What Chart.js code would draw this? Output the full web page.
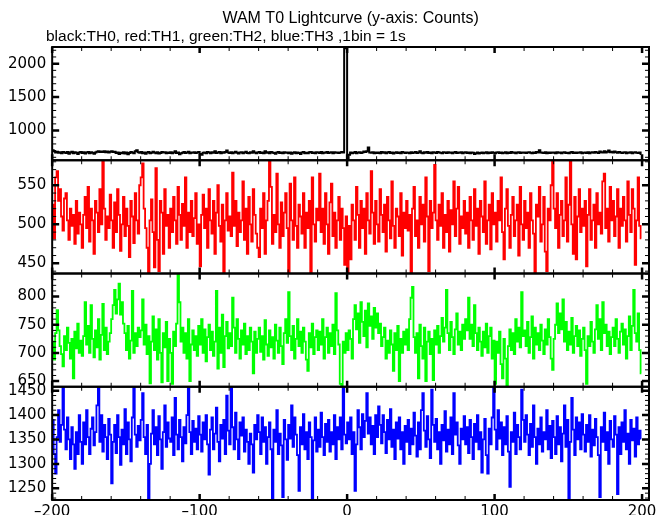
<!DOCTYPE html>
<html>
<head>
<meta charset="utf-8">
<title>WAM T0 Lightcurve</title>
<script src="https://cdn.jsdelivr.net/npm/chart.js@4.4.1/dist/chart.umd.min.js"></script>
<style>
  html, body { margin: 0; padding: 0; background: #fff; }
  #wrap { position: relative; width: 669px; height: 515px; }
</style>
</head>
<body>
<div id="wrap"><canvas id="lc"></canvas></div>
<script>
const TITLE = 'WAM T0 Lightcurve (y-axis: Counts)'
const SUBTITLE = 'black:TH0, red:TH1, green:TH2, blue:TH3 ,1bin = 1s'

// time bins: 1 s each, first bin starts at -200 s
const T_START = -200
const BIN = 1

// counts per bin (20 bins per row)
const th0 = [
  705, 690, 672, 684, 668, 676, 660, 680, 671, 664, 678, 655, 670, 682, 662, 675, 668, 650, 672, 680,
  665, 674, 658, 670, 680, 662, 676, 668, 655, 672, 684, 690, 678, 686, 680, 692, 675, 688, 670, 684,
  690, 678, 682, 665, 672, 650, 668, 662, 676, 658, 670, 645, 665, 680, 672, 660, 690, 705, 675, 668,
  680, 662, 670, 655, 672, 678, 660, 668, 684, 670, 662, 676, 658, 665, 680, 670, 674, 660, 672, 666,
  676, 662, 670, 690, 665, 672, 645, 660, 668, 678, 664, 670, 682, 660, 672, 668, 675, 663, 670, 680,
  650, 640, 668, 672, 660, 678, 670, 662, 675, 668, 690, 665, 672, 680, 660, 674, 668, 678, 700, 670,
  665, 675, 660, 670, 682, 668, 658, 672, 676, 662, 670, 684, 665, 660, 675, 668, 692, 672, 660, 670,
  678, 665, 672, 660, 690, 668, 674, 662, 680, 670, 665, 655, 672, 678, 664, 670, 660, 675, 668, 672,
  662, 670, 655, 668, 676, 660, 672, 665, 648, 670, 678, 662, 668, 660, 674, 680, 665, 670, 662, 676,
  670, 664, 678, 660, 672, 668, 680, 665, 670, 674, 662, 676, 668, 672, 665, 670, 678, 672, 2232, 2245,
  455, 640, 672, 660, 668, 680, 662, 670, 676, 664, 672, 686, 678, 690, 745, 672, 668, 675, 662, 670,
  665, 672, 660, 678, 668, 674, 662, 670, 680, 664, 672, 658, 668, 676, 665, 670, 662, 678, 670, 666,
  672, 668, 660, 676, 664, 670, 680, 665, 672, 690, 668, 660, 674, 668, 678, 665, 670, 662, 676, 670,
  665, 680, 672, 668, 660, 675, 670, 664, 676, 668, 672, 660, 670, 678, 665, 672, 668, 674, 662, 670,
  675, 664, 670, 660, 672, 668, 650, 662, 670, 658, 665, 672, 660, 668, 674, 662, 670, 665, 676, 668,
  662, 670, 676, 665, 672, 660, 668, 674, 662, 670, 665, 678, 668, 672, 660, 670, 676, 664, 670, 668,
  672, 665, 670, 676, 668, 660, 672, 665, 678, 670, 705, 672, 668, 664, 676, 660, 670, 665, 672, 668,
  670, 662, 676, 668, 672, 660, 670, 674, 665, 668, 660, 672, 678, 664, 670, 665, 672, 668, 676, 662,
  668, 672, 665, 676, 660, 670, 674, 668, 680, 672, 665, 685, 676, 670, 690, 672, 682, 700, 676, 684,
  672, 688, 676, 668, 680, 672, 665, 670, 676, 662, 672, 668, 674, 660, 670, 676, 668, 664, 672, 650
]
const th1 = [
  525, 482, 560, 568, 530, 545, 510, 492, 533, 540, 505, 480, 520, 498, 512, 475, 530, 488, 515, 500,
  470, 512, 535, 495, 548, 478, 520, 505, 462, 530, 515, 490, 545, 500, 583, 520, 480, 510, 495, 538,
  505, 470, 528, 490, 545, 512, 466, 500, 535, 485, 520, 498, 458, 530, 510, 476, 540, 505, 488, 550,
  560, 578, 520, 495, 470, 438, 505, 532, 490, 445, 572, 480, 440, 530, 515, 462, 545, 498, 512, 470,
  520, 490, 535, 505, 475, 548, 512, 480, 526, 498, 560, 470, 515, 490, 530, 485, 508, 540, 475, 500,
  446, 512, 538, 495, 520, 470, 545, 505, 488, 530, 462, 515, 550, 498, 478, 525, 438, 505, 540, 492,
  510, 485, 566, 498, 530, 472, 515, 490, 505, 555, 480, 520, 462, 535, 500, 478, 545, 512, 488, 470,
  458, 520, 495, 540, 462, 505, 530, 582, 548, 475, 512, 490, 565, 500, 470, 528, 485, 515, 540, 495,
  437, 552, 505, 480, 560, 498, 470, 525, 510, 488, 540, 470, 515, 495, 530, 437, 560, 500, 478, 520,
  505, 565, 490, 520, 475, 540, 500, 462, 528, 552, 485, 515, 470, 505, 535, 480, 520, 495, 448, 510,
  437, 498, 455, 525, 505, 480, 548, 512, 470, 530, 495, 520, 462, 540, 505, 488, 568, 515, 475, 530,
  500, 478, 545, 512, 490, 525, 465, 535, 505, 482, 555, 498, 470, 520, 510, 485, 540, 460, 515, 495,
  530, 492, 512, 437, 520, 548, 485, 505, 470, 535, 500, 525, 478, 560, 510, 440, 530, 495, 515, 576,
  505, 480, 525, 498, 540, 470, 512, 490, 530, 465, 518, 500, 555, 485, 520, 548, 475, 510, 495, 530,
  488, 515, 470, 535, 505, 480, 545, 498, 520, 462, 530, 510, 490, 555, 475, 505, 525, 468, 540, 500,
  515, 478, 530, 505, 560, 490, 455, 520, 545, 498, 470, 512, 535, 485, 505, 525, 460, 548, 500, 480,
  530, 495, 515, 470, 540, 505, 488, 437, 525, 510, 548, 478, 500, 535, 465, 440, 520, 505, 550, 582,
  520, 495, 540, 470, 512, 530, 485, 505, 560, 478, 525, 582, 500, 462, 535, 455, 510, 545, 490, 520,
  498, 530, 446, 512, 545, 480, 505, 525, 470, 540, 500, 515, 488, 555, 565, 495, 520, 478, 548, 505,
  530, 485, 510, 545, 470, 520, 498, 535, 505, 478, 555, 512, 490, 545, 520, 448, 505, 560, 498, 482
]
const th2 = [
  720, 688, 735, 776, 740, 712, 698, 676, 730, 705, 745, 718, 690, 725, 655, 738, 708, 752, 700, 722,
  695, 730, 790, 715, 748, 700, 785, 725, 692, 740, 710, 760, 688, 732, 787, 705, 745, 698, 720, 735,
  760, 785, 812, 770, 795, 823, 768, 790, 752, 735, 705, 748, 690, 722, 810, 700, 735, 712, 745, 728,
  740, 795, 715, 750, 698, 730, 646, 720, 765, 705, 742, 688, 760, 700, 648, 735, 710, 755, 650, 725,
  700, 645, 738, 712, 752, 845, 790, 720, 745, 700, 735, 690, 760, 650, 715, 740, 705, 730, 695, 748,
  715, 760, 700, 742, 685, 728, 750, 705, 738, 695, 720, 810, 672, 745, 700, 768, 675, 730, 755, 708,
  735, 712, 798, 745, 700, 760, 725, 690, 740, 715, 752, 698, 730, 705, 745, 720, 664, 738, 700, 725,
  745, 702, 730, 688, 758, 715, 695, 740, 710, 728, 690, 750, 722, 700, 745, 712, 680, 735, 760, 718,
  808, 730, 705, 748, 690, 725, 760, 712, 738, 700, 745, 720, 688, 668, 735, 710, 752, 698, 728, 740,
  705, 738, 715, 760, 690, 728, 745, 700, 735, 712, 750, 698, 806, 740, 715, 645, 643, 720, 700, 735,
  705, 740, 725, 690, 760, 785, 742, 770, 718, 790, 755, 730, 775, 710, 788, 748, 765, 725, 780, 745,
  770, 735, 752, 712, 728, 745, 690, 722, 700, 740, 715, 668, 735, 705, 748, 650, 725, 700, 738, 715,
  742, 705, 760, 798, 817, 728, 700, 735, 655, 750, 712, 690, 745, 650, 720, 738, 698, 725, 652, 740,
  715, 748, 700, 730, 762, 720, 745, 812, 735, 705, 755, 728, 698, 742, 770, 715, 738, 705, 750, 725,
  760, 740, 798, 725, 750, 712, 785, 735, 705, 745, 720, 695, 738, 710, 752, 700, 730, 745, 690, 722,
  645, 720, 700, 738, 680, 655, 725, 690, 643, 712, 742, 705, 735, 698, 760, 720, 745, 710, 808, 730,
  740, 712, 755, 700, 728, 765, 690, 745, 715, 735, 705, 750, 722, 698, 742, 715, 760, 728, 690, 670,
  725, 750, 788, 735, 770, 742, 795, 720, 755, 705, 738, 715, 762, 700, 730, 748, 712, 740, 695, 725,
  745, 705, 645, 730, 712, 755, 720, 700, 742, 785, 725, 760, 705, 790, 735, 750, 712, 738, 698, 728,
  745, 712, 760, 725, 700, 738, 752, 715, 742, 690, 730, 765, 705, 748, 812, 735, 720, 770, 705, 664
]
const th3 = [
  1390, 1320, 1280, 1355, 1410, 1345, 1380, 1458, 1370, 1330, 1395, 1350, 1310, 1375, 1340, 1290, 1365, 1320, 1400, 1345,
  1300, 1385, 1340, 1410, 1355, 1320, 1372, 1395, 1338, 1365, 1420, 1458, 1345, 1400, 1325, 1380, 1355, 1310, 1392, 1360,
  1260, 1345, 1380, 1322, 1400, 1355, 1298, 1370, 1340, 1412, 1320, 1385, 1350, 1305, 1395, 1458, 1360, 1335, 1378, 1348,
  1390, 1445, 1355, 1320, 1380, 1228, 1300, 1362, 1410, 1340, 1375, 1318, 1398, 1350, 1290, 1365, 1420, 1335, 1385, 1352,
  1345, 1395, 1318, 1435, 1360, 1330, 1390, 1355, 1305, 1375, 1342, 1400, 1458, 1365, 1320, 1388, 1345, 1372, 1330, 1398,
  1360, 1325, 1385, 1350, 1400, 1340, 1278, 1370, 1395, 1330, 1362, 1415, 1345, 1305, 1380, 1352, 1390, 1320, 1440, 1368,
  1340, 1458, 1375, 1330, 1405, 1350, 1310, 1385, 1358, 1395, 1325, 1370, 1345, 1300, 1362, 1340, 1282, 1380, 1350, 1400,
  1365, 1320, 1395, 1345, 1375, 1300, 1355, 1385, 1330, 1226, 1370, 1345, 1410, 1320, 1362, 1338, 1232, 1390, 1350, 1308,
  1380, 1352, 1420, 1335, 1395, 1360, 1318, 1245, 1375, 1340, 1402, 1330, 1365, 1310, 1385, 1355, 1226, 1348, 1395, 1325,
  1370, 1335, 1405, 1355, 1318, 1382, 1345, 1390, 1325, 1365, 1340, 1400, 1310, 1375, 1350, 1395, 1330, 1458, 1360, 1342,
  1385, 1350, 1395, 1320, 1365, 1245, 1340, 1410, 1375, 1330, 1402, 1355, 1388, 1445, 1362, 1395, 1340, 1378, 1320, 1400,
  1355, 1418, 1380, 1342, 1400, 1365, 1322, 1390, 1350, 1412, 1335, 1370, 1310, 1385, 1352, 1395, 1330, 1365, 1300, 1378,
  1345, 1390, 1320, 1372, 1340, 1405, 1358, 1315, 1385, 1330, 1410, 1445, 1368, 1335, 1398, 1350, 1312, 1452, 1380, 1345,
  1392, 1330, 1365, 1300, 1380, 1348, 1408, 1325, 1370, 1340, 1395, 1320, 1445, 1360, 1385, 1338, 1300, 1372, 1350, 1398,
  1340, 1375, 1322, 1390, 1355, 1310, 1382, 1345, 1400, 1330, 1365, 1282, 1350, 1392, 1318, 1280, 1372, 1340, 1395, 1458,
  1370, 1330, 1410, 1352, 1385, 1318, 1375, 1340, 1398, 1325, 1253, 1365, 1345, 1405, 1320, 1380, 1355, 1330, 1452, 1390,
  1345, 1400, 1360, 1318, 1382, 1335, 1420, 1355, 1300, 1372, 1340, 1395, 1325, 1365, 1350, 1410, 1330, 1378, 1312, 1388,
  1355, 1320, 1398, 1340, 1375, 1305, 1362, 1420, 1335, 1390, 1228, 1345, 1435, 1370, 1318, 1395, 1350, 1385, 1330, 1402,
  1360, 1325, 1380, 1345, 1400, 1315, 1370, 1338, 1392, 1355, 1318, 1232, 1375, 1345, 1405, 1328, 1365, 1300, 1388, 1350,
  1335, 1398, 1360, 1238, 1375, 1320, 1385, 1345, 1410, 1330, 1362, 1300, 1390, 1348, 1372, 1315, 1395, 1340, 1368, 1352
]

// panel y ranges and labelled ticks (top to bottom)
const yMin = [556, 437, 640, 1226]
const yMax = [2249, 582, 841, 1458]
const yTicks = [[1000, 1500, 2000], [450, 500, 550], [650, 700, 750, 800], [1250, 1300, 1350, 1400, 1450]]
const yMinor = [100, 10, 10, 10]
const xTicks = [-200, -100, 0, 100, 200]
const xMinor = 20
const xMin = -200
const xMax = 204.7

const series = [th0, th1, th2, th3]
const colors = ['#000000', '#ff0000', '#00ff00', '#0000ff']
const axisIds = ['y0', 'y1', 'y2', 'y3']

const toPoints = arr => arr.map((v, i) => ({ x: T_START + (i + 0.5) * BIN, y: v }))

const tickFont = { family: 'DejaVu Sans', size: 15, lineHeight: 1 }
const plain = v => String(v).replace('-', '\u2013')

const scales = {
  x: {
    type: 'linear',
    min: xMin,
    max: xMax,
    grid: { display: false, drawTicks: false },
    border: { display: false },
    afterBuildTicks: axis => { axis.ticks = xTicks.map(v => ({ value: v })) },
    ticks: { color: '#000', font: tickFont, padding: 5, maxRotation: 0, callback: plain }
  }
}
// stacked y axes: last one defined ends up on top, so add them bottom first
for (let i = axisIds.length - 1; i >= 0; i--) {
  scales[axisIds[i]] = {
    type: 'linear',
    position: 'left',
    stack: 'lc',
    stackWeight: 1,
    min: yMin[i],
    max: yMax[i],
    grid: { display: false, drawTicks: false },
    border: { display: false },
    afterBuildTicks: axis => { axis.ticks = yTicks[i].map(v => ({ value: v })) },
    ticks: { color: '#000', font: tickFont, padding: 6, autoSkip: false, callback: plain }
  }
}

// panel frames + inward tick marks, like the original plot
const framePlugin = {
  id: 'frames',
  afterDatasetsDraw(chart) {
    const ctx = chart.ctx
    const xs = chart.scales.x
    const left = xs.left, right = xs.right
    ctx.save()
    ctx.strokeStyle = '#000'
    axisIds.forEach((id, i) => {
      const ys = chart.scales[id]
      const top = ys.top, bottom = ys.bottom
      ctx.lineWidth = 2
      ctx.strokeRect(left, top, right - left, bottom - top)
      // y ticks, both sides
      const start = Math.ceil(ys.min / yMinor[i]) * yMinor[i]
      for (let v = start; v <= ys.max; v += yMinor[i]) {
        const y = ys.getPixelForValue(v)
        const major = yTicks[i].includes(v)
        const len = major ? 7 : 4
        ctx.lineWidth = major ? 2.5 : 1
        ctx.beginPath()
        ctx.moveTo(left, y); ctx.lineTo(left + len, y)
        ctx.moveTo(right, y); ctx.lineTo(right - len, y)
        ctx.stroke()
      }
      // x ticks, top and bottom of each panel
      for (let v = xMin; v <= xMax; v += xMinor) {
        const x = xs.getPixelForValue(v)
        const major = xTicks.includes(v)
        const len = major ? 6 : 4
        ctx.lineWidth = major ? 2.5 : 1
        ctx.beginPath()
        ctx.moveTo(x, top); ctx.lineTo(x, top + len)
        ctx.moveTo(x, bottom); ctx.lineTo(x, bottom - len)
        ctx.stroke()
      }
    })
    ctx.restore()
  },
  afterDraw(chart) {
    const ctx = chart.ctx
    const area = chart.chartArea
    ctx.save()
    ctx.fillStyle = '#000'
    ctx.textBaseline = 'alphabetic'
    ctx.font = '16px "Liberation Sans", Arial, sans-serif'
    ctx.textAlign = 'center'
    ctx.fillText(TITLE, (area.left + area.right) / 2, 23)
    ctx.textAlign = 'left'
    ctx.font = '15.5px "Liberation Sans", Arial, sans-serif'
    ctx.fillText(SUBTITLE, 46, 41)
    ctx.restore()
  }
}

new Chart(document.getElementById('lc'), {
  type: 'line',
  data: {
    datasets: series.map((s, i) => ({
      label: 'TH' + i,
      data: toPoints(s),
      yAxisID: axisIds[i],
      borderColor: colors[i],
      borderWidth: i === 0 ? 2 : 1.8,
      stepped: 'middle',
      pointRadius: 0,
      fill: false
    }))
  },
  options: {
    responsive: true,
    maintainAspectRatio: false,
    animation: false,
    events: [],
    layout: { padding: { top: 47, right: 20, bottom: -10, left: 2 } },
    plugins: {
      legend: { display: false },
      title: { display: false },
      tooltip: { enabled: false }
    },
    scales
  },
  plugins: [framePlugin]
})
</script>
</body>
</html>
